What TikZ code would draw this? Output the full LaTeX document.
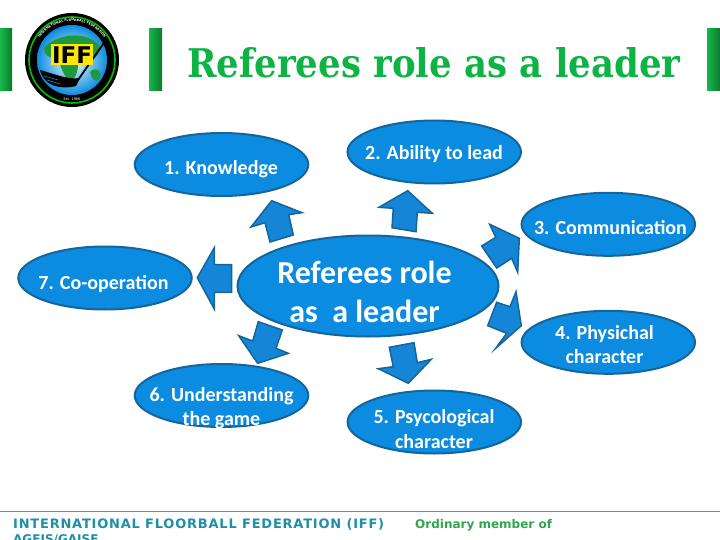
\documentclass[tikz,border=0pt]{standalone}
\usepackage{fontspec}
\setmainfont{Carlito}
\newfontfamily\titlefont{DejaVu Serif Condensed}
\newfontfamily\footfont{DejaVu Sans}
\newfontfamily\footspaced[LetterSpace=6]{DejaVu Sans}
\usetikzlibrary{shapes.geometric,decorations.text}
\definecolor{blobfill}{HTML}{0C8CE0}
\definecolor{blobline}{HTML}{14659C}
\definecolor{arrowfill}{HTML}{1585D8}
\definecolor{titlegreen}{HTML}{0DB343}
\definecolor{foottext}{HTML}{1F8FA8}
\definecolor{footline}{HTML}{3FA0B8}
\definecolor{footgreen}{HTML}{2EA84A}
\definecolor{bardark}{HTML}{0B7A2C}
\definecolor{barlight}{HTML}{17B84A}
\definecolor{land}{HTML}{1E9A3C}
\tikzset{
  x=1pt,y=-1pt,
  blob/.style={ellipse,draw=blobline,line width=2pt,fill=blobfill,
    minimum width=173.5pt,minimum height=63pt,inner sep=0pt},
  hub/.style={blob,minimum width=261pt,minimum height=101pt},
  blobtext/.style={text=white,inner sep=0pt,align=center,font=\bfseries\fontsize{20}{24.4}\selectfont},
  hubtext/.style={text=white,inner sep=0pt,align=center,font=\bfseries\fontsize{32}{39.3}\selectfont},
  fatarrow/.style={draw=blobline,line width=1.5pt,fill=arrowfill,line join=miter},
  barshade/.style={left color=barlight,right color=bardark,draw=none},
}
\begin{document}
\begin{tikzpicture}
\useasboundingbox (0,0) rectangle (720,540);
\clip (0,0) rectangle (720,540);
\fill[white] (0,0) rectangle (720,540);
% bars
\shade[barshade] (0,29) rectangle (12,91);
\shade[barshade] (149,29) rectangle (162,91);
\shade[barshade] (707,29) rectangle (720,91);
% logo
\fill[black] (72,60) circle[radius=47];
\draw[green!75!black,line width=1.6pt] (72,60) circle[radius=43];
\shade[inner color=white,outer color=blobfill] (72,60) circle[radius=35];
\fill[land] (44,48) .. controls (56,34) and (85,30) .. (99,45) .. controls (102,52) and (94,62) .. (88,58) -- (54,58) .. controls (48,58) and (44,54) .. (44,48) -- cycle;
\fill[land] (60,64) -- (78,64) .. controls (78,74) and (74,80) .. (70,82) .. controls (66,78) and (62,72) .. (60,64) -- cycle;
\fill[land] (90,72) .. controls (96,66) and (102,70) .. (100,78) .. controls (96,84) and (92,80) .. (90,72) -- cycle;
\draw[black,line width=1.8pt] (106,40) -- (78,80);
\fill[black] (40,70) .. controls (55,74) and (68,80) .. (80,78) -- (76,86) .. controls (60,90) and (44,86) .. (40,70) -- cycle;
\draw[blobfill,line width=.6pt] (44,76) -- (58,80) (47,80) -- (60,84);
\node[fill=yellow!90!orange,text=black,inner sep=1pt,minimum width=40pt,minimum height=21pt,font=\footfont\bfseries\fontsize{23}{23}\selectfont] (logotext) at (72,55) {IFF};
\path[postaction={decorate,decoration={text along path,text align=center,
  text={|\footfont\bfseries\fontsize{3.2}{4}\selectfont\color{white}|INTERNATIONAL FLOORBALL FEDERATION}}}]
  (33,60) arc[start angle=180,end angle=360,radius=39];
\node[text=white,font=\footfont\fontsize{3.5}{4}\selectfont] (logoest) at (72,99.5) {Est. 1986};
% title
\node[anchor=base west,inner sep=0pt,text=titlegreen,font=\titlefont\bfseries\fontsize{39.5}{42}\selectfont] (title) at (187,77.5) {Referees role as a leader};
% arrows
\draw[fatarrow] (270,242) -- (293.3,235) -- (288.7,214.7) -- (302,212.7) -- (271.7,200.7) -- (251,227) -- (265,222.7) -- cycle;
\draw[fatarrow] (392,227.7) -- (416,231.7) -- (417.3,212.3) -- (432.3,213.3) -- (407.7,190.7) -- (379,207.3) -- (393.3,208.3) -- cycle;
\draw[fatarrow] (481.7,246) -- (496.7,268) -- (511.7,258.3) -- (517.7,272.3) -- (519.3,238.3) -- (489.7,224.3) -- (495.7,237.3) -- cycle;
\draw[fatarrow] (496.7,302.3) -- (487.7,325.7) -- (506.7,333.3) -- (495.7,348.3) -- (521.3,325.7) -- (516,291.7) -- (510,306.7) -- cycle;
\draw[fatarrow] (389.3,347.3) -- (414,342.7) -- (417.3,362.7) -- (431.3,359.3) -- (408.3,383.3) -- (378.3,368.7) -- (393.3,366.7) -- cycle;
\draw[fatarrow] (258.3,321.7) -- (282.3,330) -- (276,348.3) -- (288.3,353.3) -- (257.7,363.3) -- (238.7,335.7) -- (252.7,341) -- cycle;
\draw[fatarrow] (231.7,264.7) -- (231.7,292.3) -- (214.3,292.3) -- (214.3,309) -- (197.3,277.7) -- (214.3,247.7) -- (214.3,264.7) -- cycle;
% ellipses
\node[hub] (hub) at (368,286) {};
\node[blob] (b1) at (221.5,164.5) {};
\node[blob] (b2) at (434.2,152) {};
\node[blob] (b3) at (608.3,224.3) {};
\node[blob] (b4) at (608.3,342.3) {};
\node[blob] (b5) at (434.3,422) {};
\node[blob] (b6) at (221.5,395.5) {};
\node[blob] (b7) at (105,278) {};
% labels
\node[hubtext] (thub) at (364.5,291.8) {Referees role\\as\ \ a leader};
\node[blobtext,anchor=base] (t1) at (221,174.3) {1. Knowledge};
\node[blobtext,anchor=base] (t2) at (434,160) {2. Ability to lead};
\node[blobtext,anchor=base] (t3) at (610.5,235) {3. Communication};
\node[blobtext] (t4) at (604.5,344.8) {4. Physichal\\character};
\node[blobtext] (t5) at (434,429) {5. Psycological\\character};
\node[blobtext] (t6) at (221.5,408) {6. Understanding\\the game};
\node[blobtext,anchor=base] (t7) at (103.5,289) {7. Co-operation};
% footer
\draw[footline,line width=1pt] (0,511) -- (720,511);
\node[anchor=base west,inner sep=0pt,text=foottext,font=\footspaced\bfseries\fontsize{13}{15}\selectfont] (foot1) at (13,528) {INTERNATIONAL FLOORBALL FEDERATION (IFF)};
\node[anchor=base west,inner sep=0pt,text=footgreen,font=\footfont\bfseries\fontsize{12}{14}\selectfont] (foot2) at (415,528) {Ordinary member of};
\node[anchor=base west,inner sep=0pt,text=foottext,font=\footfont\bfseries\fontsize{12}{14}\selectfont] (foot3) at (13,543) {AGEIS/GAISE};
\end{tikzpicture}
\end{document}
